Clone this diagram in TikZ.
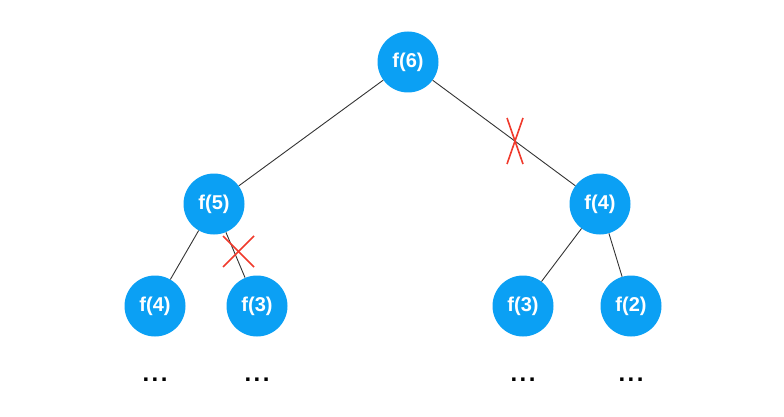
\documentclass[tikz,border=0pt]{standalone}
\usepackage{fontspec}
\setmainfont{Liberation Sans}
\definecolor{nodeblue}{HTML}{0BA0F4}
\definecolor{xred}{HTML}{F03A2C}
\newcommand{\wdots}{.\hspace{2.5pt}.\hspace{2.5pt}.}
\begin{document}
\begin{tikzpicture}[x=1pt,y=-1pt,
  fnode/.style={circle,fill=nodeblue,draw=none,minimum size=61pt,inner sep=0pt,
    text=white,font=\fontsize{20}{24}\selectfont\bfseries},
  edge/.style={draw=black!80,line width=0.9pt},
  cross/.style={draw=xred,line width=1.6pt},
  dots/.style={font=\fontsize{24}{28}\selectfont\bfseries,inner sep=0pt,anchor=base}]
\useasboundingbox (0,0) rectangle (784,417);
\node[fnode] (f6) at (408,62) {f(6)};
\node[fnode] (f5) at (214,204) {f(5)};
\node[fnode] (f4r) at (600,204) {f(4)};
\node[fnode] (f4l) at (155,306) {f(4)};
\node[fnode] (f3l) at (257,306) {f(3)};
\node[fnode] (f3r) at (523,306) {f(3)};
\node[fnode] (f2) at (631,306) {f(2)};
\draw[edge] (f6) -- (f5);
\draw[edge] (f6) -- (f4r);
\draw[edge] (f5) -- (f4l);
\draw[edge] (f5) -- (f3l);
\draw[edge] (f4r) -- (f3r);
\draw[edge] (f4r) -- (f2);
% crosses
\coordinate (xa1) at (507,118); \coordinate (xa2) at (523,164);
\coordinate (xa3) at (523,118); \coordinate (xa4) at (507,164);
\draw[cross] (xa1) -- (xa2);
\draw[cross] (xa3) -- (xa4);
\coordinate (xb1) at (223,236); \coordinate (xb2) at (254,267);
\coordinate (xb3) at (254,236); \coordinate (xb4) at (223,267);
\draw[cross] (xb1) -- (xb2);
\draw[cross] (xb3) -- (xb4);
\node[dots] (d1) at (155,381) {\wdots};
\node[dots] (d2) at (257,381) {\wdots};
\node[dots] (d3) at (523,381) {\wdots};
\node[dots] (d4) at (631,381) {\wdots};
\end{tikzpicture}
\end{document}
